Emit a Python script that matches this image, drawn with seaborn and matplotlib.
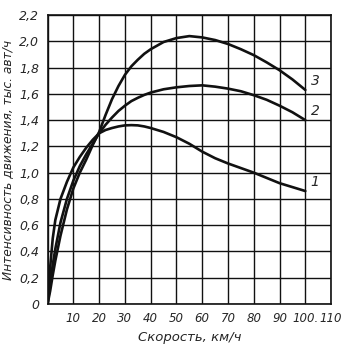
import matplotlib
matplotlib.use("Agg")
import matplotlib.pyplot as plt
import seaborn as sns
import pandas as pd

speed = [0, 1, 2, 3, 5, 7.5, 10, 12.5, 15, 17.5, 20, 22.5, 25, 27.5, 30, 32.5,
         35, 37.5, 40, 45, 50, 55, 60, 65, 70, 75, 80, 85, 90, 95, 100]
curve1 = [0, 0.28, 0.50, 0.64, 0.80, 0.93, 1.04, 1.12, 1.19, 1.25, 1.30, 1.325,
          1.34, 1.352, 1.36, 1.362, 1.36, 1.352, 1.34, 1.31, 1.27, 1.22, 1.16,
          1.11, 1.07, 1.035, 1.0, 0.96, 0.92, 0.89, 0.86]
curve2 = [0, 0.15, 0.30, 0.42, 0.62, 0.80, 0.94, 1.05, 1.14, 1.22, 1.30, 1.365,
          1.42, 1.47, 1.51, 1.545, 1.57, 1.592, 1.61, 1.635, 1.65, 1.66, 1.665,
          1.655, 1.64, 1.62, 1.59, 1.555, 1.51, 1.46, 1.40]
curve3 = [0, 0.10, 0.22, 0.33, 0.52, 0.72, 0.88, 1.0, 1.10, 1.21, 1.31, 1.44,
          1.56, 1.66, 1.745, 1.81, 1.86, 1.905, 1.94, 1.995, 2.025, 2.04, 2.03,
          2.01, 1.98, 1.94, 1.895, 1.84, 1.78, 1.71, 1.63]
curve_names = ["1", "2", "3"]
x_ticks = [0, 10, 20, 30, 40, 50, 60, 70, 80, 90, 100, 110]
x_tick_labels = ["", "10", "20", "30", "40", "50", "60", "70", "80", "90", "100.", "110"]
y_ticks = [0, 0.2, 0.4, 0.6, 0.8, 1.0, 1.2, 1.4, 1.6, 1.8, 2.0, 2.2]
y_tick_labels = ["0", "0,2", "0,4", "0,6", "0,8", "1,0", "1,2", "1,4", "1,6", "1,8", "2,0", "2,2"]
x_label = "Скорость, км/ч"
y_label = "Интенсивность движения, тыс. авт/ч"

df = pd.concat([
    pd.DataFrame({"speed": speed, "value": c, "curve": n})
    for c, n in zip([curve1, curve2, curve3], curve_names)
])

sns.set_style("white")
plt.rcParams["font.family"] = ["DejaVu Sans"]
plt.rcParams["font.style"] = "italic"

fig = plt.figure(figsize=(3.5, 3.51), dpi=100)
ax = fig.add_axes([0.136, 0.134, 0.81, 0.823])

sns.lineplot(data=df, x="speed", y="value", hue="curve",
             palette=["#111111"] * 3, linewidth=1.9, legend=False, ax=ax,
             sort=False)

ax.set_xlim(0, 110)
ax.set_ylim(0, 2.2)
ax.set_xticks(x_ticks)
ax.set_xticklabels(x_tick_labels, fontsize=8.5, style="italic")
ax.set_yticks(y_ticks)
ax.set_yticklabels(y_tick_labels, fontsize=9, style="italic")
ax.grid(True, color="#111111", linewidth=1.0)
ax.tick_params(axis="y", length=0, pad=6)
ax.tick_params(axis="x", length=0, pad=6)
for s in ax.spines.values():
    s.set_color("#111111")
    s.set_linewidth(1.2)

ax.set_xlabel(x_label, fontsize=9.5, style="italic", labelpad=4)
ax.set_ylabel(y_label, fontsize=8.8, style="italic", labelpad=4)

for name, c in zip(curve_names, [curve1, curve2, curve3]):
    ax.text(speed[-1] + 2, c[-1] + 0.07, name, fontsize=10, style="italic",
            va="center", ha="left")

fig.savefig("out.png", dpi=100, facecolor="white")
